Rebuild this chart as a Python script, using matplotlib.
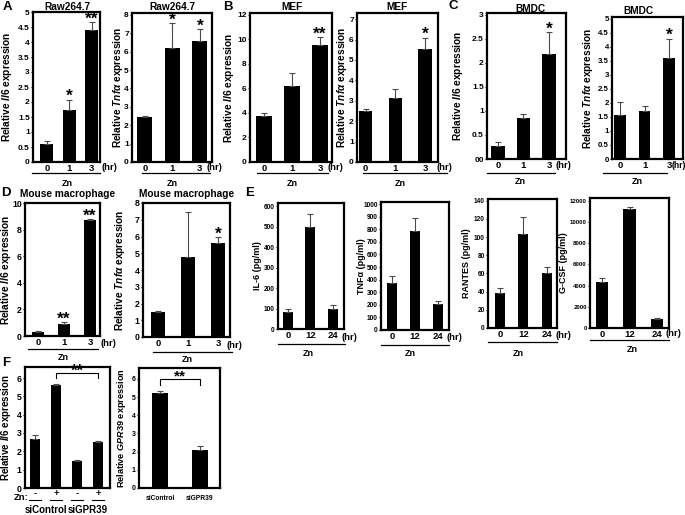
import numpy as np
import matplotlib
matplotlib.use('Agg')
import matplotlib.pyplot as plt
from matplotlib.lines import Line2D
from matplotlib.transforms import blended_transform_factory

plt.rcParams['font.family'] = ['Liberation Sans', 'DejaVu Sans']
plt.rcParams['font.weight'] = 'bold'
plt.rcParams['mathtext.fontset'] = 'custom'
plt.rcParams['mathtext.rm'] = 'Liberation Sans:bold'
plt.rcParams['mathtext.it'] = 'Liberation Sans:italic:bold'
plt.rcParams['mathtext.bf'] = 'Liberation Sans:bold'

# ---------------- data ----------------
time_short = ['0', '1', '3']
time_long = ['0', '12', '24']

raw_il6 = [0.61, 1.72, 4.39]
raw_il6_err = [0.08, 0.36, 0.27]
raw_il6_sig = ['', '*', '**']
raw_tnf = [2.45, 6.22, 6.58]
raw_tnf_err = [0.06, 1.32, 0.63]
raw_tnf_sig = ['', '*', '*']

mef_il6 = [3.72, 6.2, 9.55]
mef_il6_err = [0.25, 1.1, 0.65]
mef_il6_sig = ['', '', '**']
mef_tnf = [2.5, 3.15, 5.52]
mef_tnf_err = [0.09, 0.44, 0.57]
mef_tnf_sig = ['', '', '*']

bmdc_il6 = [0.28, 0.85, 2.18]
bmdc_il6_err = [0.08, 0.08, 0.46]
bmdc_il6_sig = ['', '', '*']
bmdc_tnf = [1.57, 1.73, 3.6]
bmdc_tnf_err = [0.45, 0.15, 0.7]
bmdc_tnf_sig = ['', '', '*']

mac_il6 = [0.32, 0.9, 8.7]
mac_il6_err = [0.03, 0.14, 0.07]
mac_il6_sig = ['', '**', '**']
mac_tnf = [1.5, 4.75, 5.6]
mac_tnf_err = [0.05, 2.7, 0.35]
mac_tnf_sig = ['', '', '*']

il6_pg = [82, 497, 98]
il6_pg_err = [15, 62, 17]
tnf_pg = [375, 788, 207]
tnf_pg_err = [52, 103, 27]
rantes_pg = [39, 103, 60]
rantes_pg_err = [5, 19, 7]
gcsf_pg = [4300, 11200, 850]
gcsf_pg_err = [450, 250, 50]

si_groups = ['siControl', 'siGPR39']
zn_status = ['-', '+', '-', '+']
si_il6 = [2.68, 5.62, 1.5, 2.52]
si_il6_err = [0.2, 0.03, 0.03, 0.03]
si_gpr39 = [5.2, 2.1]
si_gpr39_err = [0.13, 0.22]

# ---------------- figure helpers ----------------
W, H = 685, 515
fig = plt.figure(figsize=(W / 100, H / 100), dpi=100)


def fx(x):
    return x / W


def fy(y):
    return 1 - y / H


def T(x, y, s, fs=6.5, **kw):
    fig.text(fx(x), fy(y), s, ha=kw.pop('ha', 'center'), va=kw.pop('va', 'center'),
             fontsize=fs, fontweight='bold', **kw)


def L(x0, x1, y, lw=0.9):
    fig.add_artist(Line2D([fx(x0), fx(x1)], [fy(y), fy(y)], color='black', lw=lw))


def bar_panel(box, xlabels, vals, errs, xlim, width, ylim, yticks, yticklabels,
              ytick_fs, ylabel, ylabel_x, ylabel_fs=7.3, sig=None, sig_fs=12.5,
              xtick_fs=6.8):
    x0, y0, x1, y1 = box
    ax = fig.add_axes([fx(x0), fy(y1), (x1 - x0) / W, (y1 - y0) / H])
    pos = np.arange(len(vals))
    ax.bar(pos, vals, width, color='black', zorder=2)
    ax.errorbar(pos, vals, yerr=[np.zeros(len(errs)), errs], fmt='none',
                ecolor='#4a4a4a', elinewidth=0.8, capsize=2, capthick=0.8, zorder=3)
    ax.set_xlim(xlim)
    ax.set_ylim(ylim)
    ax.set_xticks(pos, xlabels, fontsize=xtick_fs, fontweight='bold')
    ax.set_yticks(yticks, yticklabels, fontsize=ytick_fs, fontweight='bold')
    ax.tick_params(axis='x', length=0, pad=1.5)
    ax.tick_params(axis='y', length=1.5, width=0.8, pad=0.8)
    for s in ax.spines.values():
        s.set_linewidth(1.6)
    ax.set_ylabel(ylabel, fontsize=ylabel_fs, fontweight='bold', va='center')
    ax.yaxis.set_label_coords((ylabel_x - x0) / (x1 - x0), 0.5)
    if sig:
        for p, v, e, s in zip(pos, vals, errs, sig):
            if s:
                ax.annotate(s, (p, v + e), xytext=(0, -1), textcoords='offset points',
                            ha='center', va='baseline', fontsize=sig_fs, fontweight='bold')
    return ax


IL6 = r'Relative $\mathit{Il6}$ expression'
TNF = r'Relative $\mathit{Tnf\alpha}$ expression'

# ---------------- row 1: A, B, C ----------------
bar_panel((33, 12, 100, 162), time_short, raw_il6, raw_il6_err, (-0.62, 2.36), 0.58,
          (0, 5), np.arange(0, 5.01, 0.5),
          ['0', '0.5', '1', '1.5', '2', '2.5', '3', '3.5', '4', '4.5', '5'], 6.0,
          IL6, 7, sig=raw_il6_sig)
bar_panel((132, 13, 212, 162), time_short, raw_tnf, raw_tnf_err, (-0.47, 2.44), 0.55,
          (0, 8.1), np.arange(0, 9), [str(i) for i in range(9)], 6.0,
          TNF, 118, sig=raw_tnf_sig)
bar_panel((250, 13, 332, 162), time_short, mef_il6, mef_il6_err, (-0.5, 2.43), 0.54,
          (0, 12.16), np.arange(0, 13, 2), [str(i) for i in range(0, 13, 2)], 6.0,
          IL6, 229, sig=mef_il6_sig)
bar_panel((357, 13, 438, 162), time_short, mef_tnf, mef_tnf_err, (-0.29, 2.43), 0.46,
          (0, 7.3), np.arange(0, 8), [str(i) for i in range(8)], 6.0,
          TNF, 342, sig=mef_tnf_sig)
bar_panel((487, 13, 566, 159), time_short, bmdc_il6, bmdc_il6_err, (-0.43, 2.67), 0.52,
          (0, 3.04), np.arange(0, 3.01, 0.5), ['00', '0.5', '1', '1.5', '2', '2.5', '3'], 6.0,
          IL6, 458, sig=bmdc_il6_sig)
bar_panel((612, 17, 683, 159), time_short, bmdc_tnf, bmdc_tnf_err, (-0.33, 2.57), 0.47,
          (0, 5.07), np.arange(0, 5.01, 0.5),
          ['0', '0.5', '1', '1.5', '2', '2.5', '3', '3.5', '4', '4.5', '5'], 5.7,
          TNF, 588, sig=bmdc_tnf_sig)

# ---------------- row 2: D, E ----------------
bar_panel((25, 203, 100, 336), time_short, mac_il6, mac_il6_err, (-0.5, 2.38), 0.46,
          (0, 10), np.arange(0, 11, 2), [str(i) for i in range(0, 11, 2)], 6.3,
          IL6, 6, sig=mac_il6_sig)
bar_panel((143, 203, 230, 337), time_short, mac_tnf, mac_tnf_err, (-0.5, 2.4), 0.47,
          (0, 8), np.arange(0, 9), [str(i) for i in range(9)], 6.3,
          TNF, 120, sig=mac_tnf_sig)
bar_panel((278, 203, 344, 329), time_long, il6_pg, il6_pg_err, (-0.44, 2.49), 0.44,
          (0, 615), np.arange(0, 601, 100), [str(i) for i in range(0, 601, 100)], 4.7,
          'IL-6 (pg/ml)', 258, ylabel_fs=6.5)
bar_panel((381, 202, 449, 330), time_long, tnf_pg, tnf_pg_err, (-0.48, 2.48), 0.45,
          (0, 1016), np.arange(0, 1001, 100), [str(i) for i in range(0, 1001, 100)], 4.7,
          'TNFα (pg/ml)', 361, ylabel_fs=6.5)
bar_panel((488, 199, 557, 328), time_long, rantes_pg, rantes_pg_err, (-0.51, 2.43), 0.43,
          (0, 142), np.arange(0, 141, 20), [str(i) for i in range(0, 141, 20)], 4.7,
          'RANTES (pg/ml)', 467, ylabel_fs=6.5)
bar_panel((590, 198, 669, 328), time_long, gcsf_pg, gcsf_pg_err, (-0.44, 2.44), 0.45,
          (0, 12280), np.arange(0, 12001, 2000), [str(i) for i in range(0, 12001, 2000)], 4.4,
          'G-CSF (pg/ml)', 564, ylabel_fs=6.5)

# ---------------- row 3: F ----------------
axf1 = bar_panel((25, 367, 110, 488), zn_status, si_il6, si_il6_err, (-0.48, 3.57), 0.48,
                 (0, 6.6), np.arange(0, 7), [str(i) for i in range(7)], 6.3,
                 IL6, 6, ylabel_fs=7)
axf1.tick_params(axis='x', pad=1.0)
axf1.plot([1, 1, 3, 3], [6.0, 6.27, 6.27, 6.0], color='black', lw=0.8, clip_on=False)
axf1.text(2, 6.12, '**', ha='center', va='baseline', fontsize=12, fontweight='bold')
bt = blended_transform_factory(axf1.transData, fig.transFigure)
for p in range(len(zn_status)):
    axf1.add_artist(Line2D([p - 0.3, p + 0.3], [fy(500), fy(500)], transform=bt,
                           color='black', lw=0.8, clip_on=False))
for i, g in enumerate(si_groups):
    axf1.text(2 * i + 0.5, fy(510), g, transform=bt, ha='center', va='center',
              fontsize=7, fontweight='bold')
T(21, 497, 'Zn:', fs=6.8)

axf2 = bar_panel((139, 368, 220, 488), si_groups, si_gpr39, si_gpr39_err, (-0.53, 1.5), 0.39,
                 (0, 6.6), np.arange(0, 7), [str(i) for i in range(7)], 5,
                 r'Relative $\mathit{GPR39}$ expression', 121, ylabel_fs=6.6, xtick_fs=4.8)
axf2.tick_params(axis='x', pad=5)
axf2.plot([0, 0, 1, 1], [5.66, 6.0, 6.0, 5.66], color='black', lw=0.8, clip_on=False)
axf2.text(0.5, 5.9, '**', ha='center', va='baseline', fontsize=11, fontweight='bold')

# ---------------- titles, letters, time units, Zn underlines ----------------
for x, y, s in [(67, 7, 'Raw264.7'), (172, 7, 'Raw264.7'), (292, 7, 'MEF'), (397, 7, 'MEF'),
                (530, 9, 'BMDC'), (638, 11, 'BMDC'),
                (68, 194, 'Mouse macrophage'), (187, 194, 'Mouse macrophage')]:
    T(x, y, s, fs=7.3)

for x, y, s in [(7, 7, 'A'), (228, 7, 'B'), (453, 6, 'C'), (6, 193, 'D'), (250, 193, 'E'),
                (6, 363, 'F')]:
    T(x, y, s, fs=9.5)

for x, y in [(109, 168), (214, 168), (335, 168), (444, 168), (563, 166),
             (108, 343), (234, 346)]:
    T(x, y, '(hr)', fs=6.8)
T(679, 166, '(hr)', fs=6.2)
for x, y in [(349, 337), (454, 337), (563, 335), (673, 334)]:
    T(x, y, '(hr)', fs=6.8)

for x0, x1, y, zx, zy in [(32, 100, 173, 67, 183), (142, 210, 173, 172, 183),
                          (257, 328, 173, 292, 183), (363, 447, 173, 400, 183),
                          (487, 555, 173, 520, 182), (603, 667, 173, 637, 182),
                          (28, 98, 349, 63, 358), (153, 232, 352, 187, 359),
                          (278, 345, 344, 308, 353), (381, 449, 345, 410, 353),
                          (488, 557, 342, 518, 353), (590, 669, 340, 632, 350)]:
    L(x0, x1, y)
    T(zx, zy, 'Zn', fs=6.5)

fig.savefig('out.png', dpi=100)
